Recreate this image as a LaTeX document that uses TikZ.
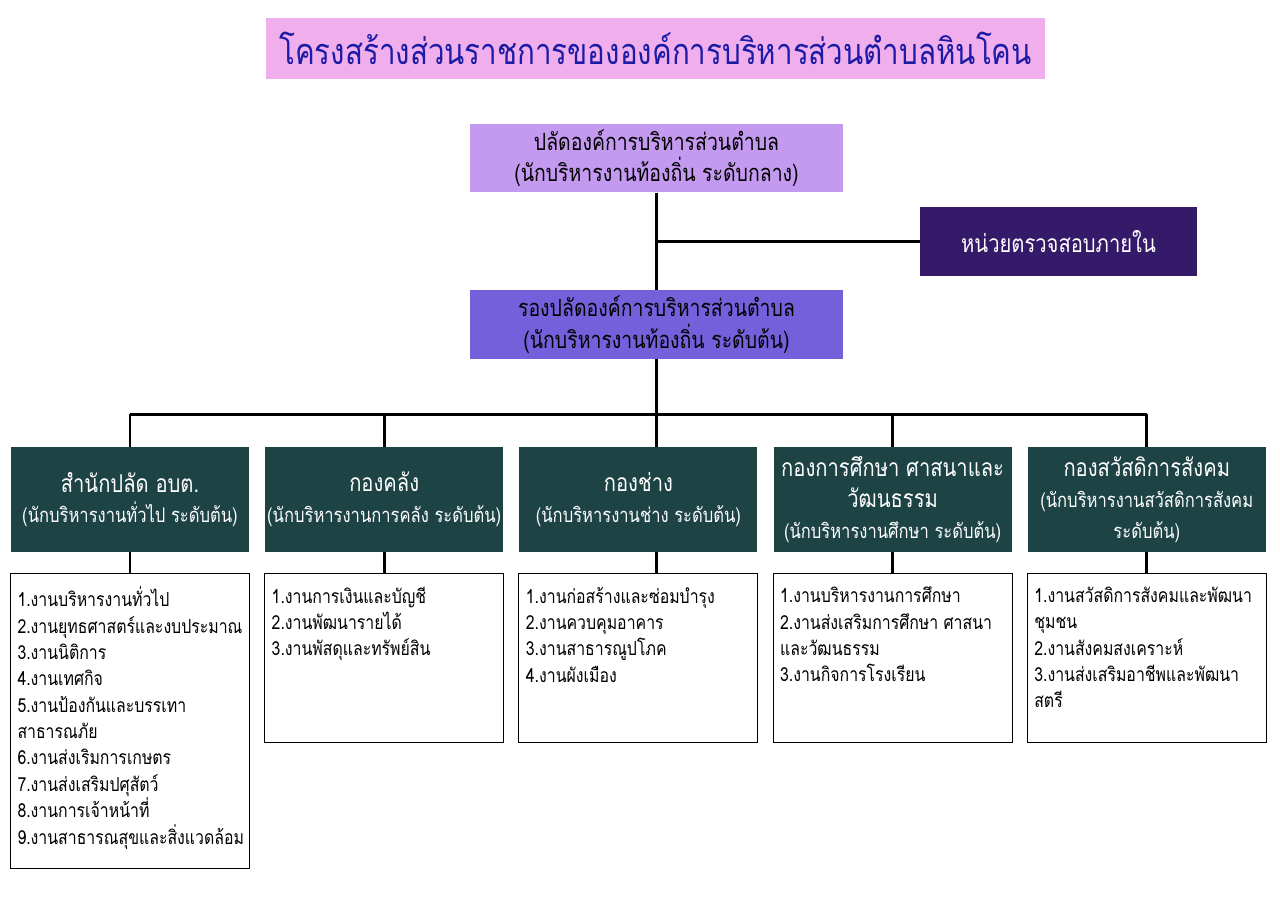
\documentclass[tikz,border=0pt]{standalone}
\usepackage{fontspec}
\setmainfont[Script=Thai, FakeStretch=0.82]{Loma}
\usetikzlibrary{positioning,calc}

\definecolor{titlepink}{HTML}{F0AEEC}
\definecolor{titleblue}{HTML}{1B1BA5}
\definecolor{chieflilac}{HTML}{C49AF0}
\definecolor{deputyviolet}{HTML}{7560DB}
\definecolor{auditpurple}{HTML}{361A6A}
\definecolor{deptgreen}{HTML}{1D4345}

\newcommand{\unitname}[1]{{\fontsize{14}{17.5}\selectfont #1}}
\newcommand{\tasklist}[2]{\parbox[t][#1][t]{4.5cm}{\raggedright #2}}

\begin{document}
\begin{tikzpicture}[
  link/.style={line width=1.6pt},
  banner/.style={
    fill=titlepink, text=titleblue, minimum width=15.58cm, minimum height=1.22cm,
    font=\fontsize{20.5}{24}\selectfont
  },
  head/.style={
    minimum width=7.46cm, minimum height=1.37cm, align=center, inner sep=1pt,
    font=\fontsize{13.5}{18}\selectfont
  },
  audit/.style={
    fill=auditpurple, text=white, minimum width=5.54cm, minimum height=1.38cm,
    font=\fontsize{14}{17}\selectfont
  },
  dept/.style={
    fill=deptgreen, text=white, minimum width=4.76cm, minimum height=2.1cm,
    align=center, inner sep=1pt, font=\fontsize{11.5}{17.5}\selectfont
  },
  tasks/.style={
    draw, line width=0.6pt, inner xsep=0.14cm, inner ysep=0.26cm, minimum width=4.78cm,
    font=\fontsize{11}{15}\selectfont
  }
]
\useasboundingbox (0,0) rectangle (25.6,-18);

% Title and top management
\node[banner] (title) at (13.11,-0.97) {โครงสร้างส่วนราชการขององค์การบริหารส่วนตำบลหินโคน};
\node[head, fill=chieflilac] (chief) at (13.13,-3.16) {ปลัดองค์การบริหารส่วนตำบล\\(นักบริหารงานท้องถิ่น ระดับกลาง)};
\node[head, fill=deputyviolet] (deputy) at (13.13,-6.49) {รองปลัดองค์การบริหารส่วนตำบล\\(นักบริหารงานท้องถิ่น ระดับต้น)};
\node[audit] (audit) at (21.17,-4.83) {หน่วยตรวจสอบภายใน};

% Departments
\node[dept] (d1) at (2.6,-9.99) {\unitname{สำนักปลัด อบต.}\\(นักบริหารงานทั่วไป ระดับต้น)};
\node[dept, right=0.31cm of d1] (d2) {\unitname{กองคลัง}\\(นักบริหารงานการคลัง ระดับต้น)};
\node[dept, right=0.31cm of d2] (d3) {\unitname{กองช่าง}\\(นักบริหารงานช่าง ระดับต้น)};
\node[dept, right=0.31cm of d3] (d4) {\unitname{กองการศึกษา ศาสนาและ}\\\unitname{วัฒนธรรม}\\(นักบริหารงานศึกษา ระดับต้น)};
\node[dept, right=0.31cm of d4] (d5) {\unitname{กองสวัสดิการสังคม}\\(นักบริหารงานสวัสดิการสังคม\\ระดับต้น)};

% Task lists
\node[tasks, below=0.42cm of d1] (l1) {\tasklist{5.38cm}{1.งานบริหารงานทั่วไป\\2.งานยุทธศาสตร์และงบประมาณ\\3.งานนิติการ\\4.งานเทศกิจ\\5.งานป้องกันและบรรเทา\\สาธารณภัย\\6.งานส่งเริมการเกษตร\\7.งานส่งเสริมปศุสัตว์\\8.งานการเจ้าหน้าที่\\9.งานสาธารณสุขและสิ่งแวดล้อม}};
\node[tasks, below=0.42cm of d2] (l2) {\tasklist{2.86cm}{1.งานการเงินและบัญชี\\2.งานพัฒนารายได้\\3.งานพัสดุและทรัพย์สิน}};
\node[tasks, below=0.42cm of d3] (l3) {\tasklist{2.86cm}{1.งานก่อสร้างและซ่อมบำรุง\\2.งานควบคุมอาคาร\\3.งานสาธารณูปโภค\\4.งานผังเมือง}};
\node[tasks, below=0.42cm of d4] (l4) {\tasklist{2.86cm}{1.งานบริหารงานการศึกษา\\2.งานส่งเสริมการศึกษา ศาสนา\\และวัฒนธรรม\\3.งานกิจการโรงเรียน}};
\node[tasks, below=0.42cm of d5] (l5) {\tasklist{2.86cm}{1.งานสวัสดิการสังคมและพัฒนา\\ชุมชน\\2.งานสังคมสงเคราะห์\\3.งานส่งเสริมอาชีพและพัฒนา\\สตรี}};

% Connectors
\coordinate (bar) at ($(deputy.south)+(0,-1.1)$);
\draw[link] (chief.south) -- (deputy.north);
\draw[link] (chief.south |- audit.west) -- (audit.west);
\draw[link] (deputy.south) -- (deputy.south |- d3.north);
\draw[link] (d1.north |- bar) -- (d5.north |- bar);
\foreach \d in {d1,d2,d4,d5} {
  \draw[link] (\d.north |- bar) -- (\d.north);
}
\foreach \d/\l in {d1/l1,d2/l2,d4/l4,d5/l5} {
  \draw[link] (\d.south) -- (\l.north);
}
\draw[link] (d3.south -| deputy.south) -- (l3.north -| deputy.south);

\end{tikzpicture}
\end{document}
